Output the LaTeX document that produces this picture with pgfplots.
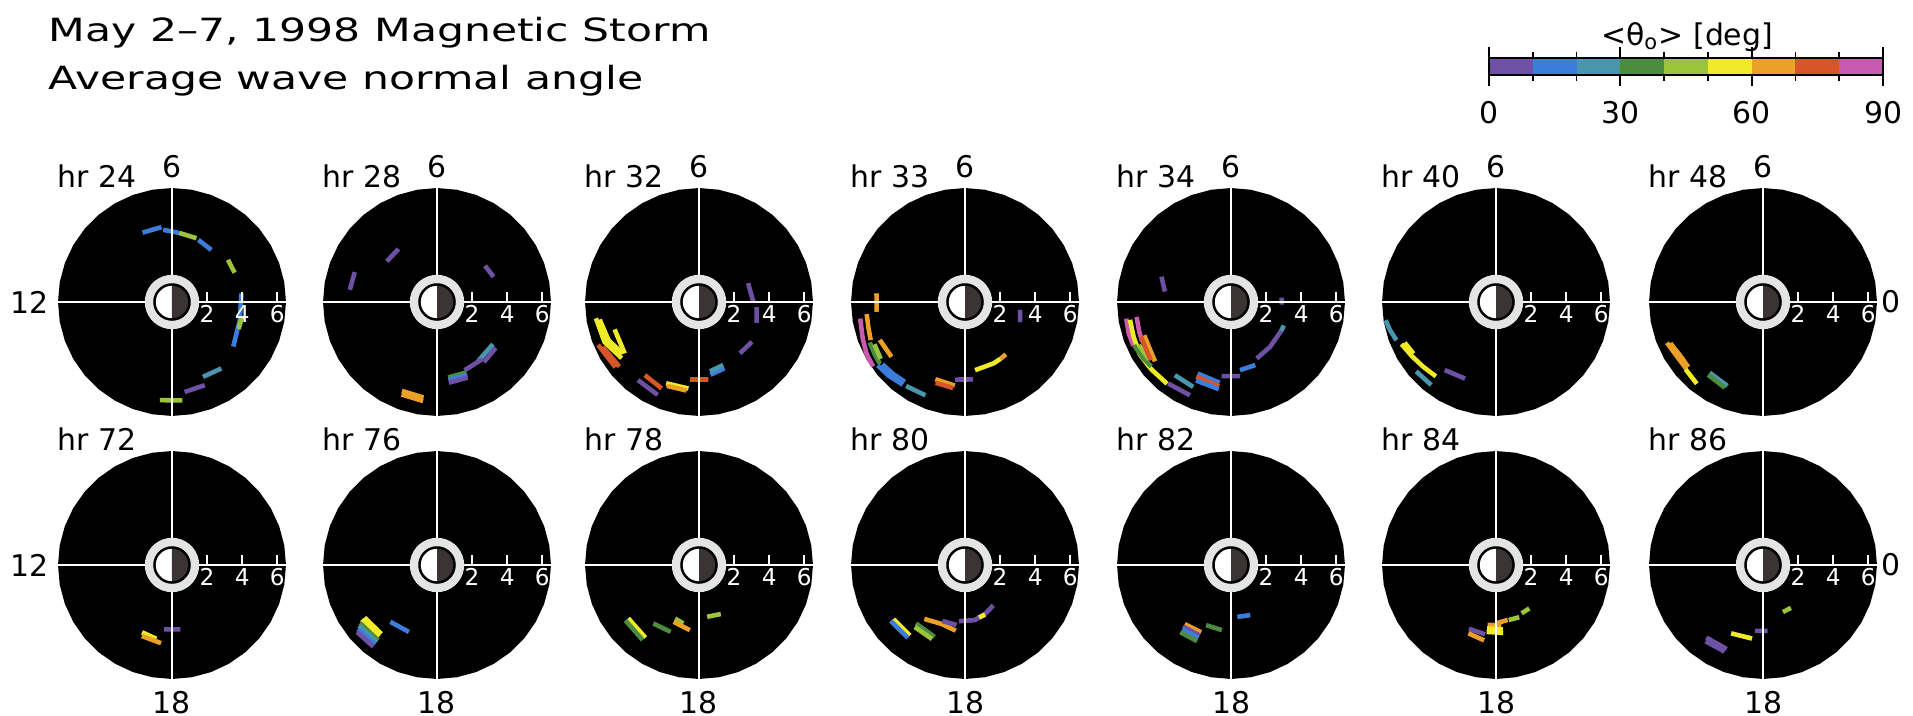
\documentclass[border=0pt]{standalone}
\usepackage{fontspec}
\setmainfont{DejaVu Sans}
\newfontfamily\titlefont[FakeStretch=1.33]{DejaVu Sans}
\usepackage{pgfplots}
\pgfplotsset{compat=1.18}
\usepgfplotslibrary{polar}
\usepackage{pgfplotstable}

% colour bins of <theta> (10 deg each)
\definecolor{c1}{RGB}{110,80,165}
\definecolor{c2}{RGB}{60,125,220}
\definecolor{c3}{RGB}{75,150,175}
\definecolor{c4}{RGB}{75,140,65}
\definecolor{c5}{RGB}{155,195,60}
\definecolor{c6}{RGB}{240,235,40}
\definecolor{c7}{RGB}{235,160,40}
\definecolor{c8}{RGB}{215,85,40}
\definecolor{c9}{RGB}{200,90,175}
\definecolor{ringgray}{RGB}{228,228,228}
\definecolor{night}{RGB}{58,52,52}

\newcommand{\lab}{\fontsize{8.5}{10}\selectfont}
\newcommand{\sm}{\fontsize{6.6}{8}\selectfont}

% outline circles: disk edge, plasmasphere ring, Earth
\pgfplotstableread{
a disk ring earth
0 6.5 1.55 1
10 6.5 1.55 1
20 6.5 1.55 1
30 6.5 1.55 1
40 6.5 1.55 1
50 6.5 1.55 1
60 6.5 1.55 1
70 6.5 1.55 1
80 6.5 1.55 1
90 6.5 1.55 1
100 6.5 1.55 1
110 6.5 1.55 1
120 6.5 1.55 1
130 6.5 1.55 1
140 6.5 1.55 1
150 6.5 1.55 1
160 6.5 1.55 1
170 6.5 1.55 1
180 6.5 1.55 1
190 6.5 1.55 1
200 6.5 1.55 1
210 6.5 1.55 1
220 6.5 1.55 1
230 6.5 1.55 1
240 6.5 1.55 1
250 6.5 1.55 1
260 6.5 1.55 1
270 6.5 1.55 1
280 6.5 1.55 1
290 6.5 1.55 1
300 6.5 1.55 1
310 6.5 1.55 1
320 6.5 1.55 1
330 6.5 1.55 1
340 6.5 1.55 1
350 6.5 1.55 1
360 6.5 1.55 1
}\circtab
\pgfplotstableread{
a r
-90 1
-75 1
-60 1
-45 1
-30 1
-15 1
0 1
15 1
30 1
45 1
60 1
75 1
90 1
}\nighttab

\newcommand{\diskbg}{%
  \addplot[fill=black, draw=none] table[x=a,y=disk] {\circtab};
}
\newcommand{\diskfg}{%
  \addplot[white, line width=0.6pt] coordinates {(0,6.5) (180,6.5)};
  \addplot[white, line width=0.6pt] coordinates {(90,6.5) (270,6.5)};
  \addplot[fill=ringgray, draw=none] table[x=a,y=ring] {\circtab};
  \addplot[fill=white, draw=none] table[x=a,y=earth] {\circtab};
  \addplot[fill=night, draw=none] table[x=a,y=r] {\nighttab};
  \addplot[black, line width=0.7pt] table[x=a,y=earth] {\circtab};
  \draw[white, line width=0.45pt] (axis cs:0,2) -- ++(0,1mm);
  \draw[white, line width=0.45pt] (axis cs:0,4) -- ++(0,1mm);
  \draw[white, line width=0.45pt] (axis cs:0,6) -- ++(0,1mm);
  \node[white, font=\sm, anchor=north, inner sep=0pt] at ([yshift=-0.3mm]axis cs:0,2) {2};
  \node[white, font=\sm, anchor=north, inner sep=0pt] at ([yshift=-0.3mm]axis cs:0,4) {4};
  \node[white, font=\sm, anchor=north, inner sep=0pt] at ([yshift=-0.3mm]axis cs:0,6) {6};
}

\pgfplotsset{
  pan/.style={width=22.8mm, height=22.8mm, scale only axis, anchor=center,
    ymin=0, ymax=6.5, enlargelimits=false, hide axis, clip=false, no markers},
  s/.style={line width=1.3pt},
}

\begin{document}
\begin{tikzpicture}
\path[use as bounding box] (0,0) rectangle (191.3mm,-71.6mm);

% ---------- titles ----------
\node[anchor=base west, inner sep=0pt, font=\titlefont\fontsize{9.1}{11}\selectfont] at (4.8mm,-4.2mm) {May 2–7, 1998 Magnetic Storm};
\node[anchor=base west, inner sep=0pt, font=\titlefont\fontsize{9.1}{11}\selectfont] at (4.8mm,-9.0mm) {Average wave normal angle};

% ---------- colour bar ----------
\node[anchor=base, inner sep=0pt, font=\lab] at (168.7mm,-4.6mm) {<θ\textsubscript{o}> [deg]};
\begin{axis}[at={(148.9mm,-7.5mm)}, anchor=south west, width=39.4mm, height=1.7mm,
  scale only axis, xmin=0, xmax=90, ymin=0, ymax=1, ytick=\empty,
  xtick={0,30,60,90}, minor xtick={10,20,40,50,70,80}, tick align=outside,
  major tick length=1.1mm, minor tick length=0.6mm, axis on top,
  axis line style={line width=0.6pt}, tick style={black, line width=0.5pt},
  xticklabel style={font=\lab, yshift=-0.3mm},
  /pgf/number format/assume math mode=true]
\addplot[fill=c1, draw=none] coordinates {(0,0) (10,0) (10,1) (0,1)};
\addplot[fill=c2, draw=none] coordinates {(10,0) (20,0) (20,1) (10,1)};
\addplot[fill=c3, draw=none] coordinates {(20,0) (30,0) (30,1) (20,1)};
\addplot[fill=c4, draw=none] coordinates {(30,0) (40,0) (40,1) (30,1)};
\addplot[fill=c5, draw=none] coordinates {(40,0) (50,0) (50,1) (40,1)};
\addplot[fill=c6, draw=none] coordinates {(50,0) (60,0) (60,1) (50,1)};
\addplot[fill=c7, draw=none] coordinates {(60,0) (70,0) (70,1) (60,1)};
\addplot[fill=c8, draw=none] coordinates {(70,0) (80,0) (80,1) (70,1)};
\addplot[fill=c9, draw=none] coordinates {(80,0) (90,0) (90,1) (80,1)};
\end{axis}

% ---------- row 1 ----------
% hr 24
\begin{polaraxis}[pan, at={(17.2mm,-30.2mm)}]
\diskbg
\addplot[s,c2] coordinates {(113,4.30) (98,4.31)};
\addplot[s,c2] coordinates {(97,4.15) (84,3.96)};
\addplot[s,c5] coordinates {(84,3.96) (69,3.90)};
\addplot[s,c2] coordinates {(67,3.85) (53,3.72)};
\addplot[s,c5] coordinates {(37,4.0) (25,3.94)};
\addplot[s,c2] coordinates {(7,3.99) (-15,4.0) (-36,4.32)};
\addplot[s,c5] coordinates {(-12,4.08) (-22,4.10)};
\addplot[s,c3] coordinates {(-67.5,4.62) (-53.4,4.72)};
\addplot[s,c1] coordinates {(-82,5.18) (-68.5,5.10)};
\addplot[s,c5] coordinates {(-97,5.64) (-84,5.64)};
\diskfg
\end{polaraxis}
% hr 28
\begin{polaraxis}[pan, at={(43.7mm,-30.2mm)}]
\diskbg
\addplot[s,c1] coordinates {(141,3.68) (126,3.74)};
\addplot[s,c1] coordinates {(172,5.02) (160,4.99)};
\addplot[s,c1] coordinates {(37,3.43) (24,3.53)};
\addplot[s,c3] coordinates {(-37,4.0) (-55,4.1)};
\addplot[s,c1] coordinates {(-38,4.25) (-52,4.35)};
\addplot[s,c1] coordinates {(-52,4.15) (-68,4.2)};
\addplot[s,c4] coordinates {(-81.6,4.35) (-67.4,4.35)};
\addplot[s,c2] coordinates {(-81.6,4.5) (-67.4,4.5)};
\addplot[s,c1] coordinates {(-81.6,4.65) (-68,4.65)};
\addplot[s,c7] coordinates {(-111.5,5.45) (-98,5.5)};
\addplot[s,c7] coordinates {(-111,5.65) (-98,5.7)};
\diskfg
\end{polaraxis}
% hr 32
\begin{polaraxis}[pan, at={(69.9mm,-30.2mm)}]
\diskbg
\addplot[s,c6] coordinates {(189,5.95) (203,5.85) (216,5.45)};
\addplot[s,c6] coordinates {(190,5.75) (203,5.6) (214,5.25)};
\addplot[s,c8] coordinates {(203,6.25) (218,6.05)};
\addplot[s,c8] coordinates {(205,6.05) (219,5.85)};
\addplot[s,c6] coordinates {(198,5.06) (214.7,5.15)};
\addplot[s,c1] coordinates {(232,5.65) (246,5.8)};
\addplot[s,c8] coordinates {(233.5,5.19) (246.6,5.37)};
\addplot[s,c6] coordinates {(248,5.0) (263,4.97)};
\addplot[s,c7] coordinates {(249,5.12) (262,5.1)};
\addplot[s,c8] coordinates {(263.4,4.45) (276.9,4.45)};
\addplot[s,c2] coordinates {(279,4.2) (291,4.05)};
\addplot[s,c3] coordinates {(279,4.0) (291,3.85)};
\addplot[s,c1] coordinates {(308.6,3.75) (323,3.77)};
\addplot[s,c1] coordinates {(21,3.0) (0,3.1)};
\addplot[s,c1] coordinates {(-5,3.3) (-20,3.5)};
\diskfg
\end{polaraxis}
% hr 33
\begin{polaraxis}[pan, at={(96.5mm,-30.2mm)}]
\diskbg
\addplot[s,c7] coordinates {(174.4,5.07) (186.3,5.07)};
\addplot[s,c9] coordinates {(189,6.05) (200,6.2) (208,6.35) (215,6.4)};
\addplot[s,c7] coordinates {(187,5.65) (195,5.7) (202,5.8)};
\addplot[s,c4] coordinates {(203,5.9) (210,5.95) (216,6.0)};
\addplot[s,c5] coordinates {(205,5.7) (214,5.8)};
\addplot[s,c2] coordinates {(216,6.15) (224,6.05) (233,5.9)};
\addplot[s,c2] coordinates {(217,5.9) (225,5.8) (233,5.7)};
\addplot[s,c3] coordinates {(235,5.85) (247,5.78)};
\addplot[s,c7] coordinates {(204,5.32) (216.7,5.23)};
\addplot[s,c7] coordinates {(249,4.72) (263,4.8)};
\addplot[s,c8] coordinates {(250,4.9) (262,4.95)};
\addplot[s,c1] coordinates {(262.6,4.46) (276,4.44)};
\addplot[s,c6] coordinates {(278.4,3.93) (295,3.86) (302,3.82)};
\addplot[s,c7] coordinates {(302,3.82) (308,3.79)};
\addplot[s,c1] coordinates {(352,3.18) (340,3.34)};
\diskfg
\end{polaraxis}
% hr 34
\begin{polaraxis}[pan, at={(123.1mm,-30.2mm)}]
\diskbg
\addplot[s,c1] coordinates {(160,4.22) (171,3.82)};
\addplot[s,c9] coordinates {(189,6.05) (197,6.1) (204,6.1)};
\addplot[s,c6] coordinates {(190,5.85) (200,5.9) (210,6.0) (220,5.95) (232,5.92)};
\addplot[s,c9] coordinates {(189,5.45) (198,5.5) (204,5.55)};
\addplot[s,c4] coordinates {(204,6.05) (212,5.95) (219,5.85)};
\addplot[s,c5] coordinates {(205,5.8) (215,5.7)};
\addplot[s,c7] coordinates {(201,5.3) (210,5.35) (218,5.5)};
\addplot[s,c8] coordinates {(201,5.5) (210,5.55) (216,5.65)};
\addplot[s,c3] coordinates {(232.5,5.26) (246,5.3)};
\addplot[s,c1] coordinates {(232.4,5.87) (246.2,5.81)};
\addplot[s,c2] coordinates {(245,4.5) (262,4.65)};
\addplot[s,c8] coordinates {(245,4.7) (262,4.85)};
\addplot[s,c2] coordinates {(246,4.9) (262,5.02)};
\addplot[s,c1] coordinates {(262.8,4.26) (277,4.26)};
\addplot[s,c2] coordinates {(277.5,3.92) (291,3.85)};
\addplot[s,c1] coordinates {(294.5,3.54) (311,3.39) (330,3.3)};
\addplot[s,c3] coordinates {(330,3.3) (336,3.3)};
\addplot[s,c1] coordinates {(5,2.9) (-3,2.9)};
\diskfg
\end{polaraxis}
% hr 40
\begin{polaraxis}[pan, at={(149.6mm,-30.2mm)}]
\diskbg
\addplot[s,c3] coordinates {(189.4,6.38) (195,6.25) (201,6.08)};
\addplot[s,c6] coordinates {(204,5.9) (213,5.7) (222,5.55) (231,5.45)};
\addplot[s,c6] coordinates {(204,5.7) (212,5.55)};
\addplot[s,c3] coordinates {(221,6.03) (232,6.0)};
\addplot[s,c1] coordinates {(233,4.86) (248,4.71)};
\diskfg
\end{polaraxis}
% hr 48
\begin{polaraxis}[pan, at={(176.3mm,-30.2mm)}]
\diskbg
\addplot[s,c7] coordinates {(203,5.95) (213,5.8) (221,5.8)};
\addplot[s,c7] coordinates {(204,5.78) (214,5.62) (221,5.65)};
\addplot[s,c6] coordinates {(221,5.85) (231,6.0)};
\addplot[s,c3] coordinates {(233,5.05) (247,5.2)};
\addplot[s,c4] coordinates {(233,5.2) (246,5.35)};
\diskfg
\end{polaraxis}

% ---------- row 2 ----------
% hr 72
\begin{polaraxis}[pan, at={(17.2mm,-56.5mm)}]
\diskbg
\addplot[s,c1] coordinates {(263,3.7) (277.5,3.7)};
\addplot[s,c6] coordinates {(246,4.2) (258,4.3)};
\addplot[s,c7] coordinates {(247,4.4) (262,4.5)};
\diskfg
\end{polaraxis}
% hr 76
\begin{polaraxis}[pan, at={(43.7mm,-56.5mm)}]
\diskbg
\addplot[s,c6] coordinates {(216,5.1) (231,5.05)};
\addplot[s,c6] coordinates {(216,5.3) (231,5.25)};
\addplot[s,c4] coordinates {(217,5.5) (232,5.45)};
\addplot[s,c3] coordinates {(218,5.65) (232,5.6)};
\addplot[s,c2] coordinates {(219,5.8) (232,5.75)};
\addplot[s,c1] coordinates {(220,5.95) (232,5.9)};
\addplot[s,c2] coordinates {(230.6,4.19) (247.2,4.14)};
\diskfg
\end{polaraxis}
% hr 78
\begin{polaraxis}[pan, at={(69.9mm,-56.5mm)}]
\diskbg
\addplot[s,c6] coordinates {(217,5.05) (233.6,5.15)};
\addplot[s,c4] coordinates {(217,5.25) (233,5.35)};
\addplot[s,c4] coordinates {(232,4.23) (247,4.14)};
\addplot[s,c5] coordinates {(246,3.35) (255,3.45)};
\addplot[s,c7] coordinates {(246,3.55) (262,3.75)};
\addplot[s,c5] coordinates {(279,2.99) (294,3.06)};
\diskfg
\end{polaraxis}
% hr 80
\begin{polaraxis}[pan, at={(96.5mm,-56.5mm)}]
\diskbg
\addplot[s,c6] coordinates {(217,5.12) (232,5.1)};
\addplot[s,c2] coordinates {(217,5.3) (232,5.28)};
\addplot[s,c4] coordinates {(230,4.35) (247,4.45)};
\addplot[s,c5] coordinates {(231,4.55) (246,4.62)};
\addplot[s,c7] coordinates {(233,3.85) (248,3.62) (262,3.78)};
\addplot[s,c1] coordinates {(248,3.45) (262,3.45)};
\addplot[s,c1] coordinates {(264,3.22) (280,3.19) (293,3.0) (305,2.81)};
\addplot[s,c6] coordinates {(285,3.1) (292,3.05)};
\diskfg
\end{polaraxis}
% hr 82
\begin{polaraxis}[pan, at={(123.1mm,-56.5mm)}]
\diskbg
\addplot[s,c7] coordinates {(232,4.28) (246,4.2)};
\addplot[s,c1] coordinates {(232,4.45) (246,4.4)};
\addplot[s,c2] coordinates {(233,4.6) (246,4.55)};
\addplot[s,c4] coordinates {(233,4.8) (246,4.75)};
\addplot[s,c4] coordinates {(247.5,3.71) (262,3.75)};
\addplot[s,c2] coordinates {(277,2.98) (291,3.06)};
\diskfg
\end{polaraxis}
% hr 84
\begin{polaraxis}[pan, at={(149.6mm,-56.5mm)}]
\diskbg
\addplot[s,c1] coordinates {(247,3.95) (261,4.0)};
\addplot[s,c7] coordinates {(248,4.2) (261,4.35)};
\addplot[s,c7] coordinates {(262,3.45) (275,3.45)};
\addplot[s,c6] coordinates {(262,3.65) (276,3.7)};
\addplot[s,c6] coordinates {(262,3.85) (276,3.9)};
\addplot[s,c7] coordinates {(270,3.33) (282,3.2)};
\addplot[s,c5] coordinates {(283,3.22) (294,3.26)};
\addplot[s,c5] coordinates {(298,3.12) (307.5,3.12)};
\diskfg
\end{polaraxis}
% hr 86
\begin{polaraxis}[pan, at={(176.3mm,-56.5mm)}]
\diskbg
\addplot[s,c1] coordinates {(232,5.25) (246.6,5.22)};
\addplot[s,c1] coordinates {(233,5.45) (246,5.4)};
\addplot[s,c6] coordinates {(245,4.3) (261.5,4.24)};
\addplot[s,c1] coordinates {(263,3.78) (274,3.77)};
\addplot[s,c5] coordinates {(293,2.91) (303,2.92)};
\diskfg
\end{polaraxis}

% ---------- panel labels ----------
\foreach \cx/\ha/\hb in {17.2/24/72, 43.7/28/76, 69.9/32/78, 96.5/33/80, 123.1/34/82, 149.6/40/84, 176.3/48/86} {
  \node[anchor=base west, inner sep=0pt, font=\lab] at (\cx mm-11.5mm,-18.8mm) {hr \ha};
  \node[anchor=base west, inner sep=0pt, font=\lab] at (\cx mm-11.5mm,-45.0mm) {hr \hb};
  \node[anchor=base, inner sep=0pt, font=\lab] at (\cx mm,-17.8mm) {6};
  \node[anchor=center, inner sep=0pt, font=\lab] at (\cx mm,-70.3mm) {18};
}
\node[anchor=east, inner sep=0pt, font=\lab] at (4.9mm,-30.2mm) {12};
\node[anchor=east, inner sep=0pt, font=\lab] at (4.9mm,-56.5mm) {12};
\node[anchor=west, inner sep=0pt, font=\lab] at (188.1mm,-30.2mm) {0};
\node[anchor=west, inner sep=0pt, font=\lab] at (188.1mm,-56.5mm) {0};
\end{tikzpicture}
\end{document}
